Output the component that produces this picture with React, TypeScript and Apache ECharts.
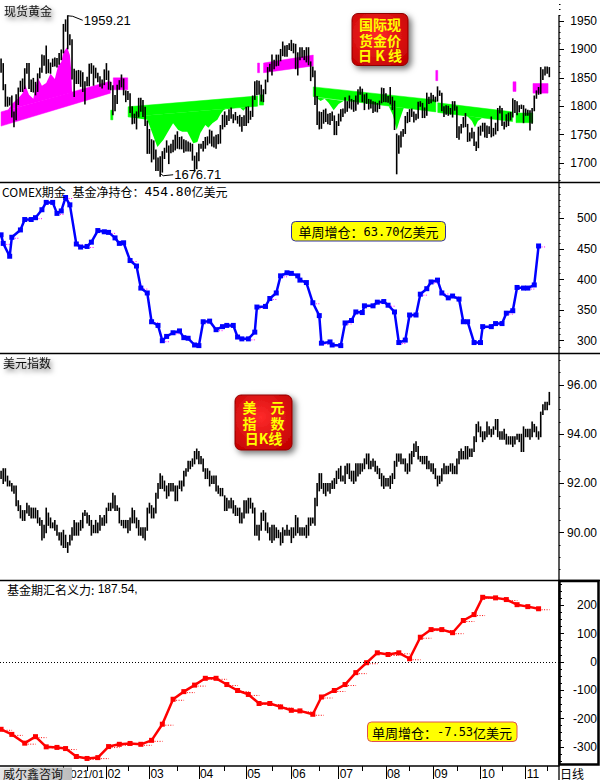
import React, { useEffect, useRef } from 'react';
import * as echarts from 'echarts';

// x axis: trading-day slots starting 2020-11-20
const DAYS = 260;
const monthStartDay = [29, 49, 69, 92, 114, 135, 157, 179, 201, 223, 244];
const monthLabels = ['2021/01', '02', '03', '04', '05', '06', '07', '08', '09', '10', '11'];
const midMonthDay = [40, 59, 82, 104, 126, 148, 168, 190, 212, 233, 254];

// spot gold daily low / high
const goldLo = [1860,1829,1800,1800,1802,1781,1764,1776,1803,1826,1826,1831,1858,1831,1826,1825,1820,1826,1850,1860,1872,1858,1859,1858,1870,1871,1869,1874,1882,1894,1932,1901,1908,1848,1817,1840,1840,1835,1826,1804,1836,1836,1858,1837,1850,1843,1835,1832,1838,1847,1830,1829,1785,1792,1805,1830,1834,1820,1808,1812,1789,1769,1770,1760,1781,1791,1782,1766,1717,1717,1702,1707,1687,1687,1676.71,1684,1708,1719,1699,1718,1720,1723,1726,1725,1725,1719,1721,1721,1721,1705,1686,1690,1704,1726,1721,1726,1732,1735,1730,1728,1726,1734,1735,1760,1764,1768,1775,1779,1771,1776,1770,1765,1756,1766,1766,1771,1777,1782,1812,1820,1821,1809,1808,1822,1843,1862,1855,1866,1871,1872,1880,1889,1888,1888,1900,1898,1894,1866,1855,1882,1886,1882,1878,1873,1845,1852,1803,1768,1760,1761,1770,1773,1769,1768,1775,1750,1750,1766,1774,1782,1788,1791,1797,1795,1791,1793,1804,1821,1808,1794,1805,1795,1797,1789,1791,1790,1796,1806,1808,1808,1807,1804,1794,1759,1681,1717,1728,1747,1752,1771,1773,1782,1772,1776,1779,1800,1780,1780,1784,1805,1806,1809,1808,1809,1819,1792,1782,1786,1784,1786,1781,1793,1745,1742,1753,1763,1764,1738,1739,1744,1731,1722,1727,1749,1756,1746,1745,1752,1746,1748,1751,1757,1788,1766,1760,1764,1766,1776,1781,1789,1785,1790,1796,1771,1784,1784,1758,1770,1792,1814,1821,1822,1847,1855,1858,1852];
const goldHi = [1883,1875,1838,1816,1815,1818,1790,1820,1832,1844,1848,1866,1875,1875,1846,1849,1842,1857,1867,1890,1889,1906,1882,1876,1883,1885,1884,1893,1899,1944,1952,1959.21,1926,1917,1865,1862,1863,1862,1859,1843,1851,1874,1875,1871,1867,1858,1852,1846,1864,1875,1862,1842,1836,1819,1837,1845,1855,1848,1827,1826,1822,1799,1786,1790,1814,1814,1810,1798,1774,1759,1741,1739,1723,1709,1711,1720,1726,1739,1730,1733,1740,1749,1755,1745,1746,1741,1739,1737,1735,1733,1712,1718,1733,1733,1738,1745,1746,1758,1756,1746,1749,1750,1766,1784,1790,1783,1794,1797,1785,1789,1782,1784,1780,1783,1798,1799,1791,1818,1843,1845,1844,1837,1829,1846,1868,1874,1890,1881,1890,1890,1900,1913,1906,1907,1910,1916,1910,1909,1894,1903,1903,1898,1903,1903,1878,1869,1862,1817,1790,1789,1793,1795,1786,1787,1790,1783,1773,1786,1794,1795,1815,1808,1818,1812,1810,1818,1829,1834,1830,1820,1822,1812,1811,1808,1807,1805,1809,1832,1831,1822,1817,1833,1816,1809,1751,1748,1755,1759,1782,1789,1794,1795,1790,1786,1807,1808,1805,1797,1823,1816,1823,1819,1816,1834,1827,1823,1799,1801,1800,1796,1808,1808,1799,1764,1768,1780,1787,1768,1753,1761,1754,1737,1763,1765,1770,1770,1765,1764,1781,1761,1770,1796,1800,1796,1772,1785,1788,1789,1813,1810,1808,1801,1802,1801,1795,1793,1792,1796,1818,1827,1833,1868,1864,1869,1869,1868];

// gold trend band segments: start day, end day, top start/end, bottom start/end, colour
const bandStart = [0, 51, 52.2, 59.1, 119.3, 120.2, 122.1, 145.2, 202.2, 203.1, 238.1, 239.5, 247.4];
const bandEnd = [50.8, 52, 58.9, 119.3, 120.2, 122.1, 145.2, 202.2, 203.1, 237.9, 239.5, 247.3, 254.4];
const bandTop0 = [1790, 1793, 1850, 1799, 1876, 1820, 1876, 1834, 1863, 1806, 1843, 1788, 1840];
const bandTop1 = [1844, 1793, 1850, 1818, 1876, 1820, 1890, 1811, 1863, 1790, 1843, 1788, 1840];
const bandBot0 = [1765, 1776, 1829, 1781, 1859, 1802, 1859, 1817, 1845, 1789, 1826, 1771, 1823];
const bandBot1 = [1823, 1776, 1829, 1800, 1859, 1802, 1871, 1790, 1845, 1773, 1826, 1771, 1823];
const bandUp = [true, false, true, false, true, false, true, false, true, false, true, false, true];

// fill outlines between price and band (day, price)
const magentaFill = [[0,1790],[3,1792],[5,1804],[8,1814],[10,1823],[11,1839],[13,1820],[15,1813],[17,1851],[19,1836],[21,1841],[23,1857],[25,1848],[26.5,1871],[28,1878],[29,1895],[30.7,1904],[32,1890],[32.6,1864],[33,1824]];
const greenFillA = [[59.1,1781],[68,1776],[69.4,1762],[72.7,1728],[75.5,1741],[77.3,1753],[80,1770],[82.4,1758],[84.3,1755],[86.6,1755],[89.4,1735],[91.3,1737],[92.7,1753],[95,1767],[96.4,1762],[98.3,1770],[100.6,1776],[102,1786],[103.4,1793],[105.3,1797],[111.3,1797],[112.7,1792],[114.6,1800],[119.3,1800]];
const greenFillB = [[146.3,1816],[148.6,1809],[150.5,1813],[152.3,1806],[154.7,1793],[157,1804],[159.3,1809]];
const greenFillC = [[180.3,1800],[182.2,1785],[184,1758],[185.4,1776],[187.3,1797]];
const greenFillD = [[216.7,1783],[219,1774],[220.4,1763],[221.8,1774],[223.6,1779]];

const goldMarkDay = [31, 74];
const goldMarkVal = [1959.21, 1676.71];

// COMEX fund net position (亿美元)
const comexDay = [0,1,4,5,9,11,14,16,19,21,24,26,28,30,32,35,37,40,42,45,48,50,53,55,57,60,63,65,68,70,73,75,77,80,83,85,87,90,92,94,97,100,103,105,108,110,112,115,118,119,123,125,128,130,133,135,138,139,142,145,148,149,153,154,158,160,163,165,168,169,173,175,178,180,183,185,188,190,193,195,198,200,203,205,208,210,213,215,217,220,223,224,228,230,233,235,238,240,243,245,248,250];
const comexVal = [473,459,438,469,481,498,498,501,514,526,526,508,512,534,522,458,453,454,461,480,478,477,468,459,460,431,422,386,378,331,325,300,307,313,316,305,304,293,292,331,332,318,323,325,325,306,303,303,314,355,356,369,378,406,411,410,406,399,395,362,341,296,298,293,292,329,333,347,346,357,357,363,364,358,347,297,301,342,342,376,385,396,399,378,370,373,368,331,331,297,297,323,323,328,328,345,349,387,386,386,391.1,454.8];

// US dollar index daily low / high
const usdLo = [92.2,92.0,92.1,91.9,91.9,91.7,91.6,91.1,90.9,90.6,90.5,90.5,90.8,90.7,90.6,90.6,90.6,90.4,90.3,89.7,89.8,90.0,90.3,90.2,90.2,90.1,89.9,89.7,89.5,89.4,89.4,89.2,89.5,89.7,89.9,89.9,89.9,90.1,90.2,90.7,90.4,90.3,89.9,90.0,90.0,90.0,90.1,90.3,90.3,90.4,90.9,90.9,91.0,90.9,90.9,90.4,90.3,90.2,90.2,90.0,90.1,90.4,90.4,90.2,89.9,89.9,89.8,89.7,90.1,90.8,90.6,90.6,90.8,91.4,91.8,91.8,91.7,91.4,91.5,91.7,91.7,91.3,91.3,91.8,91.7,91.9,92.3,92.5,92.6,92.7,92.8,93.0,92.8,92.8,92.5,92.2,92.2,91.9,92.0,92.0,91.7,91.6,91.5,91.5,90.9,90.9,91.0,91.0,90.8,90.7,90.7,90.4,90.4,90.6,90.8,90.8,91.0,90.8,89.9,89.9,89.7,90.1,90.5,90.1,90.0,89.7,89.6,89.7,89.8,89.8,89.5,89.6,89.9,89.9,89.9,89.6,89.8,89.9,90.0,89.9,89.9,89.9,89.8,89.9,90.3,90.4,90.3,91.1,91.7,91.8,91.6,91.5,91.7,91.6,91.8,91.8,92.0,92.2,92.1,92.1,92.0,92.4,92.2,92.1,92.0,92.1,92.3,92.4,92.5,92.6,92.8,92.6,92.6,92.7,92.5,92.4,92.2,91.9,91.8,91.9,91.9,91.8,92.0,92.2,92.7,92.9,92.8,92.8,92.5,92.4,92.5,92.8,93.1,93.3,93.0,92.9,92.8,92.8,92.6,92.6,92.5,92.4,92.2,91.9,92.0,92.1,92.4,92.4,92.4,92.5,92.4,92.4,92.4,92.8,93.0,93.0,93.0,93.0,93.1,93.1,93.3,93.7,94.1,93.9,93.7,93.8,93.9,94.0,93.9,94.0,94.2,93.9,93.8,93.8,93.8,93.6,93.6,93.6,93.5,93.6,93.8,93.7,93.3,93.3,93.9,93.9,93.8,93.9,94.1,93.9,93.8,93.9,94.8,95.0,95.0,95.2];
const usdHi = [92.5,92.6,92.6,92.3,92.1,92.0,91.9,91.9,91.3,91.1,90.9,90.9,91.2,91.1,91.0,91.0,91.0,90.9,90.6,90.5,90.3,91.0,90.8,90.6,90.4,90.5,90.3,90.0,90.0,90.1,89.9,89.6,89.9,90.2,90.5,90.4,90.4,90.5,90.8,90.9,90.8,90.7,90.5,90.3,90.5,90.4,90.7,90.6,90.7,91.0,91.2,91.2,91.6,91.5,91.1,91.0,90.5,90.5,90.5,90.5,90.6,91.0,90.9,90.6,90.5,90.2,90.2,90.2,91.0,91.2,91.1,91.0,91.6,92.0,92.4,92.3,92.1,91.9,92.0,92.0,92.0,91.9,91.9,92.1,92.1,92.5,92.6,92.9,92.9,93.0,93.3,93.4,93.3,93.1,93.0,92.6,92.6,92.5,92.3,92.3,92.3,91.9,91.8,91.8,91.5,91.4,91.3,91.4,91.3,91.1,91.0,91.0,90.8,91.3,91.3,91.4,91.4,91.2,91.0,90.3,90.3,90.8,90.9,90.8,90.4,90.2,90.3,90.3,90.2,90.1,90.0,90.2,90.1,90.3,90.1,90.2,90.2,90.7,90.6,90.2,90.2,90.2,90.3,90.6,90.6,90.6,91.4,92.0,92.4,92.4,92.0,92.0,92.0,92.0,92.1,92.2,92.5,92.6,92.7,92.3,92.7,92.8,92.8,92.5,92.5,92.8,92.8,92.8,92.8,93.0,93.2,93.2,92.9,93.0,92.9,92.7,92.6,92.4,92.3,92.2,92.2,92.3,92.4,92.9,93.2,93.2,93.2,93.0,93.0,92.8,93.2,93.3,93.6,93.7,93.5,93.1,93.1,93.1,93.1,92.9,92.8,92.8,92.6,92.3,92.3,92.6,92.8,92.7,92.7,92.8,92.8,92.7,93.0,93.3,93.4,93.3,93.5,93.5,93.4,93.4,93.9,94.4,94.5,94.3,94.1,94.1,94.5,94.3,94.2,94.3,94.6,94.6,94.1,94.1,94.2,94.0,93.9,93.9,93.9,93.9,94.0,94.0,94.0,94.3,94.2,94.2,94.2,94.5,94.4,94.3,94.1,94.9,95.2,95.3,95.3,95.7];

// fund FX notional force
const fundDay = [0,5,11,16,21,26,30,35,40,45,50,55,60,65,70,75,80,85,90,95,100,105,110,115,120,125,130,135,139,145,149,155,160,165,170,175,180,185,190,195,200,205,210,215,220,224,230,235,240,245,250];
const fundVal = [-238,-256,-287,-264,-300,-302,-306,-334,-341,-338,-299,-291,-288,-291,-277,-220,-132,-105,-82,-58,-58,-80,-101,-115,-147,-147,-159,-171,-173,-185,-124,-101,-80,-38,-3,32,26,32,11,87,114,114,103,146,167,228,226,220,202,195.07,187.54];

// axis tick labels
const goldTicks = [1700, 1750, 1800, 1850, 1900, 1950];
const comexTicks = [300, 350, 400, 450, 500];
const usdTicks = [90, 92, 94, 96];
const fundTicks = [-300, -200, -100, 0, 100, 200];

const CJK = 'Noto Sans CJK SC';
const ARIAL = 'Liberation Sans';
const MONO = 'DejaVu Sans Mono';
const MAG = '#ff00ff';
const GRN = '#00ff00';

const steps = (a: number, b: number, s: number) => {
  const r: number[] = [];
  for (let v = a; v <= b + 1e-9; v += s) r.push(+v.toFixed(2));
  return r;
};

function yPair(grid: number, min: number, max: number, major: number[], minor: number[], fmt: (v: number) => string, minorLen: number) {
  return [
    {
      type: 'value', gridIndex: grid, position: 'right', min, max,
      axisLine: { show: false, onZero: false }, splitLine: { show: false },
      axisTick: { show: true, customValues: major, length: 5, lineStyle: { color: '#000', width: 1 } },
      axisLabel: { show: true, customValues: major, formatter: fmt, align: 'right', margin: 38, color: '#000', fontSize: 12, fontFamily: ARIAL, showMinLabel: true, showMaxLabel: true },
    },
    {
      type: 'value', gridIndex: grid, position: 'right', min, max,
      axisLine: { show: false, onZero: false }, splitLine: { show: false },
      axisTick: { show: true, customValues: minor, length: minorLen, lineStyle: { color: '#000', width: 1 } },
      axisLabel: { show: false },
    },
  ];
}

function ohlc(_p: any, api: any) {
  const x = api.value(0);
  const a = api.coord([x, api.value(1)]);
  const b = api.coord([x, api.value(2)]);
  return { type: 'line', shape: { x1: a[0], y1: a[1] + 0.5, x2: b[0], y2: b[1] - 0.5 }, style: { stroke: '#000', lineWidth: 1.6 } };
}

function stub(color: string, len: number, every: number) {
  return (params: any, api: any) => {
    if (params.dataIndex % every !== every - 1) return null;
    const p = api.coord([api.value(0), api.value(1)]);
    return { type: 'line', shape: { x1: p[0] + 3, y1: p[1] + 1, x2: p[0] + 3 + len, y2: p[1] + 1 }, style: { stroke: color, lineWidth: 1, lineDash: [1, 1.5] } };
  };
}

function badge(x: number, y: number, w: number, h: number, text: string, fs: number, lh: number) {
  return [
    {
      type: 'rect', z: 100, shape: { x, y, width: w, height: h, r: 6 },
      style: {
        fill: { type: 'radial', x: 0.45, y: 0.4, r: 0.75, colorStops: [{ offset: 0, color: '#ff2a2a' }, { offset: 1, color: '#c00000' }] },
        stroke: '#900000', lineWidth: 1, shadowBlur: 6, shadowColor: 'rgba(0,0,0,0.55)', shadowOffsetX: 3, shadowOffsetY: 3,
      },
    },
    {
      type: 'text', z: 101, x: x + w / 2, y: y + h / 2,
      style: { text, fontSize: fs, lineHeight: lh, fontWeight: 'bold', fontFamily: CJK, fill: '#ffff00', align: 'center', verticalAlign: 'middle' },
    },
  ];
}

function shadowLabel(text: string, x: number, y: number) {
  return {
    type: 'text', z: 100, x, y,
    style: { text, fontSize: 12, fontFamily: CJK, fill: '#111', verticalAlign: 'middle', textShadowColor: 'rgba(0,0,0,0.6)', textShadowBlur: 5, textShadowOffsetX: 2, textShadowOffsetY: 3 },
  };
}

export default function App() {
  const ref = useRef<HTMLDivElement>(null);
  useEffect(() => {
    if (!ref.current) return;
    const chart = echarts.init(ref.current, null, { renderer: 'svg' });

    const goldFills = [
      { pts: magentaFill, color: MAG },
      { pts: greenFillA, color: GRN },
      { pts: greenFillB, color: GRN },
      { pts: greenFillC, color: GRN },
      { pts: greenFillD, color: GRN },
    ];

    const xAxis: any[] = [0, 1, 2].map((g) => ({ type: 'value', gridIndex: g, min: -0.5, max: DAYS - 0.5, show: false }));
    xAxis.push({
      type: 'value', gridIndex: 3, min: -0.5, max: DAYS - 0.5, position: 'bottom',
      axisLine: { show: true, onZero: false, lineStyle: { color: '#000', width: 1.5 } },
      axisTick: { show: true, customValues: monthStartDay, length: 13, lineStyle: { color: '#000', width: 1 } },
      axisLabel: {
        show: true, customValues: monthStartDay,
        formatter: (v: number) => {
          const i = monthStartDay.indexOf(v);
          return i === 0 ? '{s|' + monthLabels[0] + '}' : monthLabels[i] || '';
        },
        rich: { s: { fontSize: 11, fontFamily: ARIAL, color: '#000' } },
        align: 'left', margin: 2, padding: [0, 0, 0, 1], fontSize: 12, fontFamily: ARIAL, color: '#000',
        showMinLabel: true, showMaxLabel: true, hideOverlap: false,
      },
      splitLine: { show: false },
    });
    xAxis.push({
      type: 'value', gridIndex: 3, min: -0.5, max: DAYS - 0.5, position: 'bottom',
      axisLine: { show: false, onZero: false },
      axisTick: { show: true, customValues: midMonthDay, length: 5, lineStyle: { color: '#000', width: 1 } },
      axisLabel: { show: false }, splitLine: { show: false },
    });

    const yAxis: any[] = [
      ...yPair(0, 1665.7, 1987, goldTicks, steps(1670, 1980, 10), (v) => String(v), 1.5),
      ...yPair(1, 279.1, 558.5, comexTicks, steps(280, 550, 10), (v) => String(v), 1.5),
      ...yPair(2, 88.06, 97.28, usdTicks, steps(88.5, 97, 0.5), (v) => v.toFixed(2), 1.5),
      ...yPair(3, -367.6, 287.3, fundTicks, steps(-350, 275, 25), (v) => String(v), 3),
    ];

    const option: any = {
      animation: false,
      backgroundColor: '#fff',
      grid: [
        { left: 0, top: 0, width: 559, height: 182.5 },
        { left: 0, top: 182.5, width: 559, height: 171 },
        { left: 0, top: 353.5, width: 559, height: 227 },
        { left: 0, top: 580.5, width: 559, height: 186 },
      ],
      xAxis,
      yAxis,
      series: [
        {
          type: 'custom', xAxisIndex: 0, yAxisIndex: 0, z: 1, silent: true,
          data: goldFills.map((f) => [f.pts[0][0], f.pts[0][1]]),
          encode: { x: 0, y: 1 },
          renderItem: (params: any, api: any) => {
            const f = goldFills[params.dataIndex];
            return { type: 'polygon', shape: { points: f.pts.map((p) => api.coord(p)) }, style: { fill: f.color } };
          },
        },
        {
          type: 'custom', xAxisIndex: 0, yAxisIndex: 0, z: 2, silent: true,
          data: bandStart.map((s, i) => [s, bandTop0[i]]),
          encode: { x: 0, y: 1 },
          renderItem: (params: any, api: any) => {
            const i = params.dataIndex;
            const pts = [
              api.coord([bandStart[i], bandTop0[i]]),
              api.coord([bandEnd[i], bandTop1[i]]),
              api.coord([bandEnd[i], bandBot1[i]]),
              api.coord([bandStart[i], bandBot0[i]]),
            ];
            return { type: 'polygon', shape: { points: pts }, style: { fill: bandUp[i] ? MAG : GRN, stroke: bandUp[i] ? MAG : GRN, lineWidth: 0.5 } };
          },
        },
        {
          type: 'custom', xAxisIndex: 0, yAxisIndex: 0, z: 3, silent: true,
          data: goldHi.map((h, i) => [i, goldLo[i], h]),
          encode: { x: 0, y: [1, 2] },
          renderItem: ohlc,
        },
        {
          type: 'custom', xAxisIndex: 0, yAxisIndex: 0, z: 4, silent: true,
          data: goldMarkDay.map((d, i) => [d, goldMarkVal[i]]),
          encode: { x: 0, y: 1 },
          renderItem: (params: any, api: any) => {
            const p = api.coord([api.value(0), api.value(1)]);
            const txt = api.value(1).toFixed(2);
            if (params.dataIndex === 0) {
              return {
                type: 'group', children: [
                  { type: 'polyline', shape: { points: [[p[0], p[1]], [p[0] + 5, p[1] + 0.5], [p[0] + 15, p[1] + 4.5]] }, style: { stroke: '#000', lineWidth: 1, fill: null } },
                  { type: 'text', x: p[0] + 16, y: p[1] + 5, style: { text: txt, fontSize: 13, fontFamily: ARIAL, fill: '#000', verticalAlign: 'middle' } },
                ],
              };
            }
            return {
              type: 'group', children: [
                { type: 'polyline', shape: { points: [[p[0], p[1] - 3], [p[0] + 3, p[1] - 0.5], [p[0] + 13, p[1] - 1.5]] }, style: { stroke: '#000', lineWidth: 1, fill: null } },
                { type: 'text', x: p[0] + 14, y: p[1] - 1.5, style: { text: txt, fontSize: 13, fontFamily: ARIAL, fill: '#000', verticalAlign: 'middle' } },
              ],
            };
          },
        },
        {
          type: 'line', xAxisIndex: 1, yAxisIndex: 2, z: 3, silent: true,
          data: comexDay.map((d, i) => [d, comexVal[i]]),
          symbol: 'rect', symbolSize: 5, showSymbol: true,
          lineStyle: { color: '#0000ff', width: 2.5 }, itemStyle: { color: '#0000ff' },
        },
        {
          type: 'custom', xAxisIndex: 1, yAxisIndex: 2, z: 2, silent: true,
          data: comexDay.map((d, i) => [d, comexVal[i]]),
          encode: { x: 0, y: 1 },
          renderItem: stub(MAG, 5, 2),
        },
        {
          type: 'custom', xAxisIndex: 2, yAxisIndex: 4, z: 3, silent: true,
          data: usdHi.map((h, i) => [i, usdLo[i], h]),
          encode: { x: 0, y: [1, 2] },
          renderItem: ohlc,
        },
        {
          type: 'line', xAxisIndex: 3, yAxisIndex: 6, z: 3, silent: true,
          data: fundDay.map((d, i) => [d, fundVal[i]]),
          symbol: 'rect', symbolSize: 5, showSymbol: true,
          lineStyle: { color: '#ff0000', width: 2.5 }, itemStyle: { color: '#ff0000' },
          markLine: {
            silent: true, symbol: ['none', 'none'], label: { show: false },
            lineStyle: { color: '#000', type: [1, 2], width: 1 },
            data: [{ yAxis: 0 }],
          },
        },
        {
          type: 'custom', xAxisIndex: 3, yAxisIndex: 6, z: 2, silent: true,
          data: fundDay.map((d, i) => [d, fundVal[i]]),
          encode: { x: 0, y: 1 },
          renderItem: stub('#ff0000', 8, 1),
        },
      ],
      graphic: [
        { type: 'line', z: 90, shape: { x1: 0, y1: 182.5, x2: 600, y2: 182.5 }, style: { stroke: '#000', lineWidth: 1.5 } },
        { type: 'line', z: 90, shape: { x1: 0, y1: 353.5, x2: 600, y2: 353.5 }, style: { stroke: '#000', lineWidth: 1.5 } },
        { type: 'line', z: 90, shape: { x1: 0, y1: 580.5, x2: 600, y2: 580.5 }, style: { stroke: '#000', lineWidth: 1.5 } },
        { type: 'line', z: 90, shape: { x1: 559, y1: 15, x2: 559, y2: 780 }, style: { stroke: '#000', lineWidth: 1.3 } },
        { type: 'rect', z: 90, shape: { x: 559.5, y: 581, width: 39, height: 183.5 }, style: { fill: 'none', stroke: '#000', lineWidth: 2.5 } },

        shadowLabel('现货黄金', 4, 10.5),
        shadowLabel('美元指数', 3, 362.5),

        ...badge(352, 13.5, 56, 52, '国际现\n货金价\n日 K 线', 14, 15.5),
        ...badge(235, 395, 57, 55, '美　元\n指　数\n日K线', 14, 15.5),

        {
          type: 'text', z: 100, x: 2, y: 191,
          style: {
            text: '{a|COMEX期金}  {b|基金净持仓：}{c|454.80}{b|亿美元}', verticalAlign: 'middle',
            rich: {
              a: { fontSize: 12, fontFamily: CJK, color: '#000' },
              b: { fontSize: 12, fontFamily: CJK, color: '#0000ff' },
              c: { fontSize: 13, fontFamily: MONO, color: '#0000ff' },
            },
          },
        },
        { type: 'rect', z: 100, shape: { x: 291.5, y: 221.5, width: 154, height: 19.5, r: 4 }, style: { fill: '#ffff00', stroke: '#3030a0', lineWidth: 1 } },
        {
          type: 'text', z: 101, x: 368.5, y: 231.5,
          style: {
            text: '{b|单周增仓：}{c|63.70}{b|亿美元}', align: 'center', verticalAlign: 'middle',
            rich: { b: { fontSize: 13, fontFamily: CJK, color: '#0000ff' }, c: { fontSize: 12, fontFamily: MONO, color: '#0000ff' } },
          },
        },
        {
          type: 'text', z: 100, x: 7, y: 589,
          style: {
            text: '{b|基金期汇名义力:} {c|187.54,}', verticalAlign: 'middle',
            rich: { b: { fontSize: 12, fontFamily: CJK, color: '#ff0000' }, c: { fontSize: 12, fontFamily: ARIAL, color: '#ff2050' } },
          },
        },
        { type: 'rect', z: 100, shape: { x: 367.5, y: 722, width: 149.5, height: 19.5, r: 4 }, style: { fill: '#ffff00', stroke: '#e05050', lineWidth: 1 } },
        {
          type: 'text', z: 101, x: 442, y: 732,
          style: {
            text: '{b|单周增仓：}{c|-7.53}{b|亿美元}', align: 'center', verticalAlign: 'middle',
            rich: { b: { fontSize: 13, fontFamily: CJK, color: '#ff0000' }, c: { fontSize: 12, fontFamily: MONO, color: '#ff0000' } },
          },
        },
        {
          type: 'rect', z: 100, shape: { x: 0, y: 767.5, width: 72, height: 12.5 },
          style: { fill: { type: 'linear', x: 0, y: 0, x2: 1, y2: 0, colorStops: [{ offset: 0, color: '#e6e6e6' }, { offset: 1, color: '#bdbdbd' }] } },
        },
        { type: 'text', z: 101, x: 3, y: 773, style: { text: '威尔鑫咨询', fontSize: 12, lineHeight: 12, fontFamily: CJK, fill: '#111', verticalAlign: 'middle' } },
        { type: 'text', z: 101, x: 560, y: 773, style: { text: '日线', fontSize: 12, lineHeight: 12, fontFamily: CJK, fill: '#000', verticalAlign: 'middle' } },
      ],
    };

    chart.setOption(option);
    return () => chart.dispose();
  }, []);

  return <div ref={ref} style={{ position: 'absolute', left: 0, top: 0, width: 600, height: 780, background: '#fff' }} />;
}
